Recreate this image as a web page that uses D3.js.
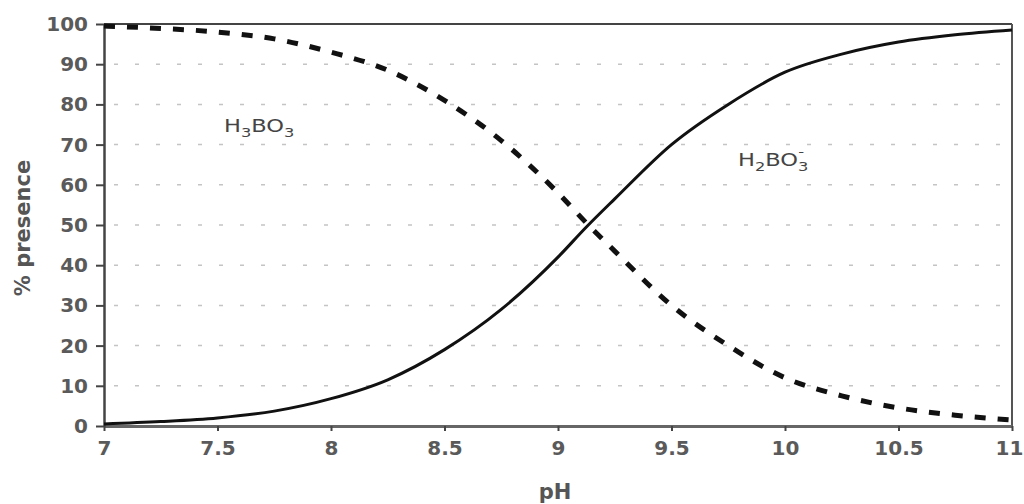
<!DOCTYPE html>
<meta charset="utf-8">
<head>
  <script src="https://cdnjs.cloudflare.com/ajax/libs/d3/7.8.5/d3.min.js"></script>
  <style>
    body { margin: 0; background: #fff; }
    text { font-family: "DejaVu Sans", sans-serif; }
  </style>
</head>
<body>
<div id="chart"></div>
<script>
  // values
  var ph = [7, 7.25, 7.5, 7.75, 8, 8.25, 8.5, 8.75, 9, 9.125, 9.25, 9.5, 9.75, 10, 10.25, 10.5, 10.75, 11];
  var boricAcid = [99.5, 98.9, 98, 96.3, 93, 88.5, 81, 71, 58, 50.5, 43.5, 30, 20, 12, 7.5, 4.5, 2.7, 1.5];
  var borate = [0.5, 1.1, 2, 3.7, 6.8, 11.5, 19, 29, 42, 49.5, 56.5, 70, 80, 88, 92.5, 95.5, 97.3, 98.5];
  var xTicks = [7, 7.5, 8, 8.5, 9, 9.5, 10, 10.5, 11];
  var yTicks = [0, 10, 20, 30, 40, 50, 60, 70, 80, 90, 100];

  var width = 1024, height = 504;
  var margin = {top: 24, right: 12, bottom: 78, left: 104};

  var svg = d3.select("#chart").append("svg")
      .attr("width", width)
      .attr("height", height);

  var x = d3.scaleLinear().domain([7, 11]).range([margin.left, width - margin.right]);
  var y = d3.scaleLinear().domain([0, 100]).range([height - margin.bottom, margin.top]);

  // dotted grid
  svg.append("g").selectAll("line")
      .data(yTicks.filter(function(d) { return d > 0 && d < 100; }))
      .enter().append("line")
      .attr("x1", x(7) + 10).attr("x2", x(11))
      .attr("y1", function(d) { return y(d); })
      .attr("y2", function(d) { return y(d); })
      .attr("stroke", "#c4c4c4")
      .attr("stroke-width", 1.5)
      .attr("stroke-dasharray", "4,17");

  // frame top and right
  svg.append("line").attr("x1", x(7)).attr("x2", x(11)).attr("y1", y(100)).attr("y2", y(100))
      .attr("stroke", "#444").attr("stroke-width", 2);
  svg.append("line").attr("x1", x(11)).attr("x2", x(11)).attr("y1", y(100)).attr("y2", y(0))
      .attr("stroke", "#555").attr("stroke-width", 2);

  var xAxis = svg.append("g")
      .attr("transform", "translate(0," + y(0) + ")")
      .call(d3.axisBottom(x).tickValues(xTicks).tickSize(5).tickPadding(10).tickSizeOuter(0).tickFormat(d3.format("")));
  var yAxis = svg.append("g")
      .attr("transform", "translate(" + x(7) + ",0)")
      .call(d3.axisLeft(y).tickValues(yTicks).tickSize(8).tickPadding(8).tickSizeOuter(0));

  [xAxis, yAxis].forEach(function(a) {
    a.select(".domain").attr("stroke", "#444").attr("stroke-width", 2.5);
    a.selectAll(".tick line").attr("stroke", "#444").attr("stroke-width", 2);
    a.selectAll("text").attr("font-size", 20).attr("font-weight", "bold").attr("fill", "#5a5a5a")
        .attr("font-family", "DejaVu Sans, sans-serif");
  });
  xAxis.select(".domain").attr("stroke", "#666").attr("stroke-width", 3);
  // last label sits against the right edge
  xAxis.selectAll(".tick text").filter(function(d) { return d === 11; }).attr("dx", -3);

  var line = d3.line()
      .x(function(d, i) { return x(ph[i]); })
      .y(function(d) { return y(d); })
      .curve(d3.curveMonotoneX);

  svg.append("path").datum(borate)
      .attr("d", line)
      .attr("fill", "none")
      .attr("stroke", "#111")
      .attr("stroke-width", 3);

  svg.append("path").datum(boricAcid)
      .attr("d", line)
      .attr("fill", "none")
      .attr("stroke", "#111")
      .attr("stroke-width", 5)
      .attr("stroke-dasharray", "11,12");

  // species labels
  var l1 = svg.append("text").attr("transform", "translate(224,132) scale(1.25,1)")
      .attr("font-size", 18).attr("fill", "#444");
  l1.append("tspan").text("H");
  l1.append("tspan").attr("font-size", 13).attr("dy", 5).text("3");
  l1.append("tspan").attr("dy", -5).text("BO");
  l1.append("tspan").attr("font-size", 13).attr("dy", 5).text("3");

  var l2 = svg.append("text").attr("transform", "translate(738,166) scale(1.25,1)")
      .attr("font-size", 18).attr("fill", "#444");
  l2.append("tspan").text("H");
  l2.append("tspan").attr("font-size", 13).attr("dy", 5).text("2");
  l2.append("tspan").attr("dy", -5).text("BO");
  l2.append("tspan").attr("font-size", 13).attr("dy", 5).text("3");
  l2.append("tspan").attr("font-size", 13).attr("dx", -8).attr("dy", -15).text("-");

  // axis titles
  svg.append("text")
      .attr("x", x(9) - 3).attr("y", 499)
      .attr("text-anchor", "middle")
      .attr("font-size", 21).attr("font-weight", "bold").attr("fill", "#555")
      .text("pH");
  svg.append("text")
      .attr("transform", "translate(30,228) rotate(-90)")
      .attr("text-anchor", "middle")
      .attr("font-size", 21).attr("font-weight", "bold").attr("fill", "#555")
      .text("% presence");
</script>
</body>
